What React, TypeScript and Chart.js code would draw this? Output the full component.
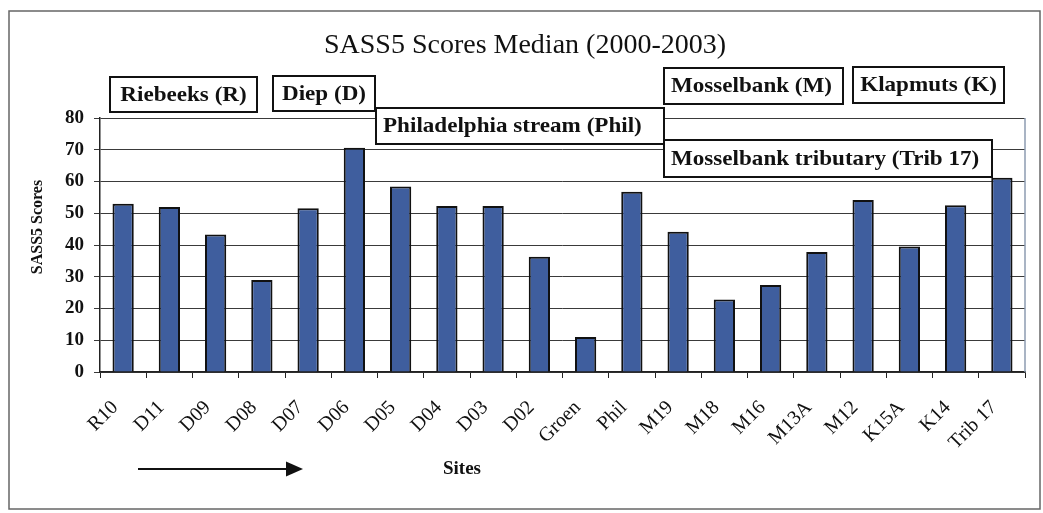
import { useEffect, useRef } from 'react';
import { Chart, registerables } from 'chart.js';

Chart.register(...registerables);

const sites = ['R10', 'D11', 'D09', 'D08', 'D07', 'D06', 'D05', 'D04', 'D03', 'D02', 'Groen', 'Phil', 'M19', 'M18', 'M16', 'M13A', 'M12', 'K15A', 'K14', 'Trib 17'];
const scores = [53, 52, 43.3, 29, 51.6, 70.6, 58.4, 52.3, 52.3, 36.3, 11, 56.8, 44.2, 22.8, 27.4, 37.8, 54.2, 39.5, 52.5, 61.2];
const yTicks = [0, 10, 20, 30, 40, 50, 60, 70, 80];
const titleText = 'SASS5 Scores Median (2000-2003)';
const yTitleText = 'SASS5 Scores';
const xTitleText = 'Sites';
const groupLabels = ['Riebeeks (R)', 'Diep (D)', 'Philadelphia stream (Phil)', 'Mosselbank (M)', 'Klapmuts (K)', 'Mosselbank tributary (Trib 17)'];

// annotation box layout (canvas px): left, top, right, bottom, text alignment
const groupBoxes: [number, number, number, number, string][] = [
  [110, 77, 257, 112, 'center'],
  [273, 76, 375, 111, 'center'],
  [376, 108, 664, 144, 'left'],
  [664, 68, 843, 104, 'left'],
  [853, 67, 1004, 103, 'center'],
  [664, 140, 992, 177, 'left'],
];

const SERIF = '"Liberation Serif", "Times New Roman", serif';

const decorations = {
  id: 'decorations',
  afterDraw(chart: any) {
    const ctx = chart.ctx as CanvasRenderingContext2D;
    const area = chart.chartArea;
    ctx.save();

    // plot area right border
    ctx.strokeStyle = '#8c9bb0';
    ctx.lineWidth = 1.5;
    ctx.beginPath();
    ctx.moveTo(area.right, area.top);
    ctx.lineTo(area.right, area.bottom);
    ctx.stroke();

    // outer frame
    ctx.strokeStyle = '#666';
    ctx.lineWidth = 1.5;
    ctx.strokeRect(9, 11, 1031, 498);

    // title
    ctx.fillStyle = '#111';
    ctx.font = `28px ${SERIF}`;
    ctx.textAlign = 'center';
    ctx.textBaseline = 'alphabetic';
    ctx.fillText(titleText, 525, 53);

    // group boxes
    groupLabels.forEach((label, i) => {
      const [l, t, r, b, align] = groupBoxes[i];
      ctx.fillStyle = '#fff';
      ctx.fillRect(l, t, r - l, b - t);
      ctx.strokeStyle = '#111';
      ctx.lineWidth = 2;
      ctx.strokeRect(l, t, r - l, b - t);
      ctx.fillStyle = '#111';
      ctx.font = `bold 21px ${SERIF}`;
      ctx.textBaseline = 'middle';
      const cy = (t + b) / 2 + 1;
      ctx.save();
      if (align === 'left') {
        ctx.translate(l + 7, cy);
        ctx.scale(1.1, 1);
        ctx.textAlign = 'left';
      } else {
        ctx.translate((l + r) / 2, cy);
        ctx.scale(1.1, 1);
        ctx.textAlign = 'center';
      }
      ctx.fillText(label, 0, 0);
      ctx.restore();
    });

    // y title
    ctx.save();
    ctx.translate(38, 227);
    ctx.rotate(-Math.PI / 2);
    ctx.font = `bold 16px ${SERIF}`;
    ctx.textAlign = 'center';
    ctx.textBaseline = 'middle';
    ctx.fillStyle = '#111';
    ctx.fillText(yTitleText, 0, 0);
    ctx.restore();

    // x title
    ctx.font = `bold 19px ${SERIF}`;
    ctx.textAlign = 'center';
    ctx.textBaseline = 'middle';
    ctx.fillStyle = '#111';
    ctx.fillText(xTitleText, 462, 469);

    // arrow
    ctx.strokeStyle = '#111';
    ctx.lineWidth = 2;
    ctx.beginPath();
    ctx.moveTo(138, 469);
    ctx.lineTo(290, 469);
    ctx.stroke();
    ctx.fillStyle = '#111';
    ctx.beginPath();
    ctx.moveTo(286, 461.5);
    ctx.lineTo(303, 469);
    ctx.lineTo(286, 476.5);
    ctx.closePath();
    ctx.fill();

    ctx.restore();
  },
};

export default function App() {
  const ref = useRef<HTMLCanvasElement>(null);

  useEffect(() => {
    document.body.style.margin = '0';
    const canvas = ref.current;
    if (!canvas) return;
    const chart = new Chart(canvas, {
      type: 'bar',
      data: {
        labels: sites,
        datasets: [
          {
            data: scores,
            backgroundColor: '#3f5e9e',
            borderColor: '#111',
            borderWidth: 2,
            barPercentage: 0.46,
            categoryPercentage: 1,
          },
        ],
      },
      options: {
        animation: false,
        responsive: false,
        maintainAspectRatio: false,
        layout: { padding: { left: 0, right: 18, top: 118, bottom: 0 } },
        plugins: {
          legend: { display: false },
          title: { display: false },
          tooltip: { enabled: false },
        },
        scales: {
          x: {
            grid: { display: true, drawOnChartArea: false, drawTicks: true, tickLength: 6, color: '#222', offset: true },
            border: { color: '#222', width: 1.5 },
            ticks: {
              autoSkip: false,
              maxRotation: 45,
              minRotation: 45,
              padding: 18,
              labelOffset: -8,
              color: '#111',
              font: { family: SERIF, size: 20 },
            },
            afterFit: (s: any) => {
              s.height = 141;
            },
          },
          y: {
            min: 0,
            max: 80,
            afterBuildTicks: (s: any) => {
              s.ticks = yTicks.map((v) => ({ value: v }));
            },
            grid: { color: '#3a3a3a', lineWidth: 1, tickLength: 6 },
            border: { color: '#222', width: 1.5 },
            ticks: {
              padding: 10,
              color: '#111',
              font: { family: SERIF, size: 19, weight: 'bold' },
            },
            afterFit: (s: any) => {
              s.width = 100;
            },
          },
        },
      },
      plugins: [decorations],
    });
    return () => chart.destroy();
  }, []);

  return (
    <div style={{ position: 'absolute', left: 0, top: 0, width: 1043, height: 513 }}>
      <canvas ref={ref} width={1043} height={513} style={{ display: 'block', width: 1043, height: 513 }} />
    </div>
  );
}
